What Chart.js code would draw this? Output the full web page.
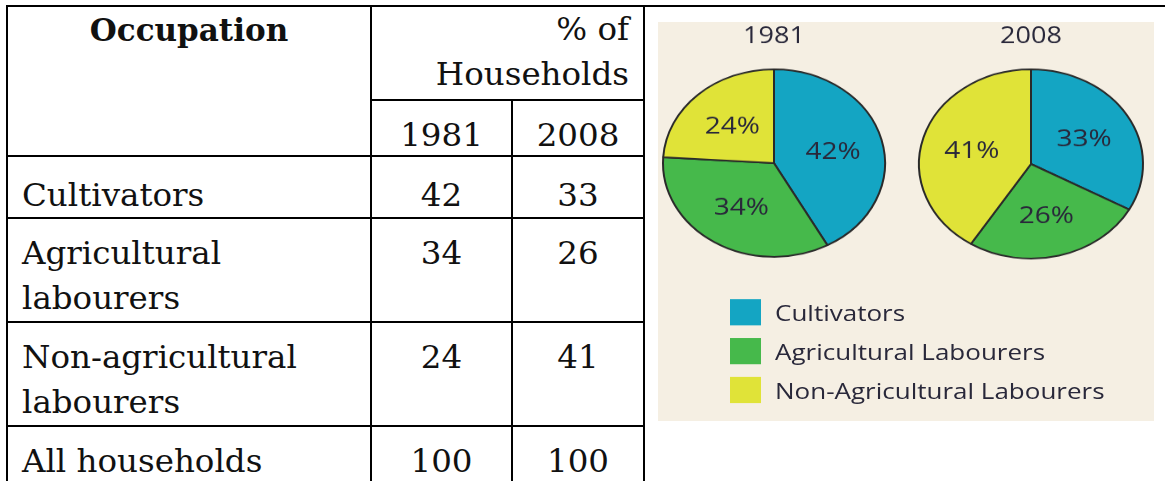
<!DOCTYPE html>
<html>
<head>
<meta charset="utf-8">
<script src="https://cdn.jsdelivr.net/npm/chart.js@4.4.1/dist/chart.umd.min.js"></script>
<style>
 body { margin:0; width:1165px; height:481px; overflow:hidden; background:#fff; position:relative; }
 #lineaSuperior { position:absolute; left:6px; top:5px; width:1159px; height:2px; background:#000; }
 #tabla { position:absolute; left:6px; top:5px; border-collapse:collapse; table-layout:fixed; width:637px;
          font-family:"DejaVu Serif", serif; font-size:32.5px; line-height:45px; color:#111; }
 #tabla td, #tabla th { border:2px solid #000; vertical-align:top; padding:12px 0 0 0; }
 #tabla .ocup { text-align:left; padding-left:14px; }
 #tabla .num { text-align:center; }
 #tabla .anios td { padding-top:16px; line-height:36px; }
 #tabla .primera td { padding-top:20px; line-height:36px; }
 #tabla .cab1 td, #tabla .cab1 th { padding-top:0; }
 #tabla th.occ { text-align:center; font-weight:bold; font-size:31px; padding-top:1px; }
 #tabla td.pct { text-align:right; padding-right:14px; }
 #panel { position:absolute; left:658px; top:22px; width:496px; height:399px; background:#F5EFE3; }
 /* todo el panel se aplasta en vertical para que las tortas queden elipticas */
 #interior { position:absolute; left:0; top:0; width:496px; height:472px; transform:scaleY(0.845); transform-origin:0 0; }
 #interior canvas { position:absolute; top:0; }
 #leyenda { position:absolute; left:72px; top:328px; font-family:"Open Sans", sans-serif; font-size:26px; color:#29283a; }
 .item { display:flex; align-items:center; height:31px; margin-bottom:15px; white-space:nowrap; }
 .cuadro { width:31px; height:31px; margin-right:14px; }
</style>
</head>
<body>
<div id="lineaSuperior"></div>
<table id="tabla"></table>
<div id="panel">
 <div id="interior">
  <canvas id="canvas1981" width="240" height="300" style="left:-4px"></canvas>
  <canvas id="canvas2008" width="240" height="300" style="left:253px"></canvas>
  <div id="leyenda"></div>
 </div>
</div>
<script>
//Datos del grafico
const ocupaciones = ['Cultivators', 'Agricultural Labourers', 'Non-Agricultural Labourers'];
const ocupacionesTabla = ['Cultivators', 'Agricultural labourers', 'Non-agricultural labourers'];
const anios = ['1981', '2008'];
const valores1981 = [42, 34, 24];
const valores2008 = [33, 26, 41];
const colores = ['#14A5C3', '#46B94B', '#E0E338'];

//Armo la tabla con los mismos datos
function renderTabla() {
 const suma = arr => arr.reduce((a, b) => a + b, 0);
 let html = '<colgroup><col style="width:364px"><col style="width:141px"><col style="width:132px"></colgroup>';
 html += '<tr class="cab1" style="height:94px"><th rowspan="2" class="occ">Occupation</th><td colspan="2" class="pct">% of Households</td></tr>';
 html += '<tr class="anios" style="height:56px"><td class="num">' + anios[0] + '</td><td class="num">' + anios[1] + '</td></tr>';
 for (let i = 0; i < ocupacionesTabla.length; i++) {
  let alto = i == 0 ? 62 : 104;
  let clase = i == 0 ? ' class="primera"' : '';
  html += '<tr' + clase + ' style="height:' + alto + 'px"><td class="ocup">' + ocupacionesTabla[i] + '</td><td class="num">' + valores1981[i] + '</td><td class="num">' + valores2008[i] + '</td></tr>';
 }
 html += '<tr style="height:62px"><td class="ocup">All households</td><td class="num">' + suma(valores1981) + '</td><td class="num">' + suma(valores2008) + '</td></tr>';
 document.getElementById('tabla').innerHTML = html;
}

//Leyenda comun a las dos tortas
function renderLeyenda() {
 let html = '';
 for (let i = 0; i < ocupaciones.length; i++) {
  html += '<div class="item"><div class="cuadro" style="background:' + colores[i] + '"></div>' + ocupaciones[i] + '</div>';
 }
 document.getElementById('leyenda').innerHTML = html;
}

//Plugin para escribir los porcentajes dentro de cada porcion
const etiquetas = {
 id: 'etiquetas',
 afterDatasetsDraw(chart) {
  const ctx = chart.ctx;
  const meta = chart.getDatasetMeta(0);
  const datos = chart.data.datasets[0].data;
  ctx.save();
  ctx.fillStyle = '#29283a';
  ctx.font = '28px "Open Sans"';
  ctx.textAlign = 'center';
  ctx.textBaseline = 'middle';
  meta.data.forEach((arco, i) => {
   const p = arco.getProps(['x', 'y', 'startAngle', 'endAngle', 'outerRadius'], true);
   const medio = (p.startAngle + p.endAngle) / 2;
   const r = p.outerRadius * 0.55;
   ctx.fillText(datos[i] + '%', p.x + Math.cos(medio) * r, p.y + Math.sin(medio) * r + 2);
  });
  ctx.restore();
 }
};

function renderTorta(idCanvas, titulo, valores, radio, espacio) {
 const canvas = document.getElementById(idCanvas);
 return new Chart(canvas, {
  type: 'pie',
  data: {
   labels: ocupaciones,
   datasets: [{
    data: valores,
    backgroundColor: colores,
    borderColor: '#2a2a2a',
    borderWidth: 2,
    hoverOffset: 0
   }]
  },
  options: {
   responsive: false,
   animation: false,
   radius: radio,
   layout: { padding: 0 },
   plugins: {
    legend: { display: false },
    tooltip: { enabled: false },
    title: {
     display: true,
     text: titulo,
     color: '#29283a',
     font: { family: 'Open Sans', size: 27, weight: 'normal' },
     padding: { top: 1.2, bottom: espacio }
    }
   }
  },
  plugins: [etiquetas]
 });
}

renderTabla();
renderLeyenda();
renderTorta('canvas1981', anios[0], valores1981, 111, 0.2);
renderTorta('canvas2008', anios[1], valores2008, 112, 2.4);
</script>
</body>
</html>
